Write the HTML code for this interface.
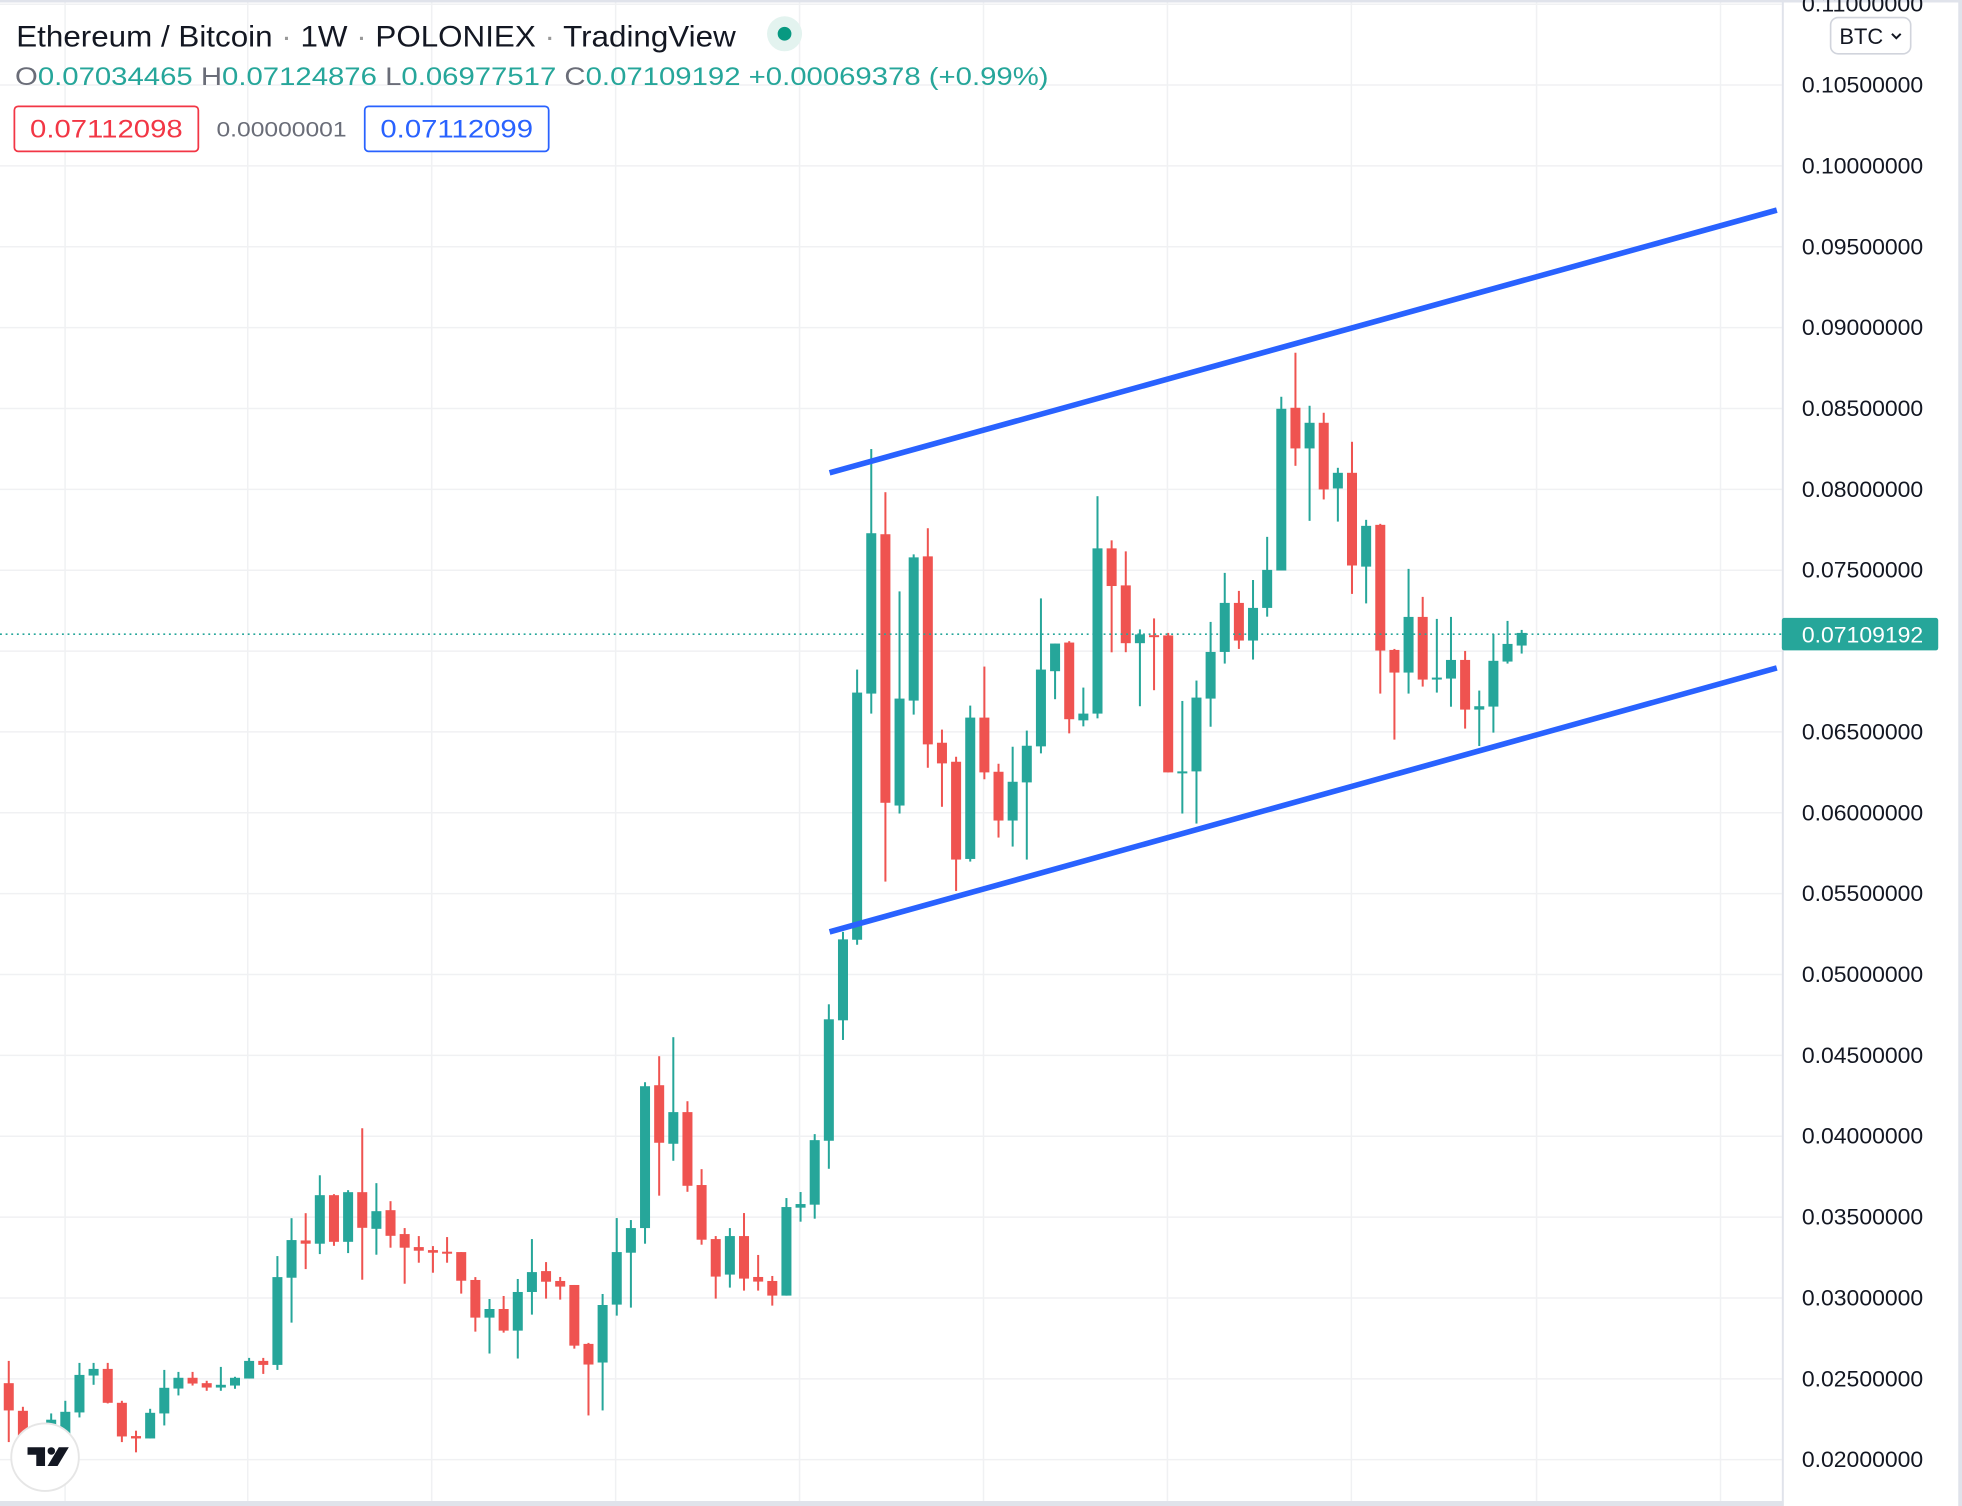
<!DOCTYPE html>
<html><head><meta charset="utf-8"><style>
html,body{margin:0;padding:0;background:#fff;}
svg{display:block;}
text{font-family:"Liberation Sans",Arial,sans-serif;}
</style></head><body>
<svg id="s" width="1962" height="1506" viewBox="0 0 1568 1204" preserveAspectRatio="none" xmlns="http://www.w3.org/2000/svg">
<rect width="1568" height="1204" fill="#fff"/>
<g id="grid" stroke="#f0f1f3" stroke-width="1.2"></g>
<rect x="0" y="0" width="1568" height="2" fill="#e0e3eb"/>
<rect x="0" y="1200" width="1425" height="4" fill="#e0e3eb"/>
<rect x="1424" y="0" width="1.6" height="1204" fill="#e0e3eb"/>
<rect x="1565" y="0" width="3" height="1204" fill="#e0e3eb"/>
<g id="candles"></g>
<line x1="663" y1="378" x2="1420" y2="168" stroke="#2962ff" stroke-width="4.5"/>
<line x1="663" y1="745" x2="1420" y2="534" stroke="#2962ff" stroke-width="4.5"/>
<line x1="0" y1="507" x2="1424" y2="507" stroke="#26a69a" stroke-width="1.3" stroke-dasharray="1.5 3"/>
<g id="axis" font-size="17.5" fill="#131722"></g>
<rect x="1424" y="494" width="125" height="26" rx="2" fill="#26a69a"/>
<text x="1440" y="513.5" font-size="17.5" fill="#fff" textLength="97" lengthAdjust="spacingAndGlyphs">0.07109192</text>
<rect x="1463" y="14" width="64" height="29" rx="6" fill="#fff" stroke="#d1d4dc" stroke-width="1.3"/>
<text x="1470" y="35" font-size="17.5" fill="#131722">BTC</text>
<path d="M1512 27 l3.5 3.5 l3.5 -3.5" fill="none" stroke="#131722" stroke-width="1.6"/>
<text x="13" y="37" font-size="24" fill="#131722" textLength="575" lengthAdjust="spacingAndGlyphs">Ethereum / Bitcoin <tspan fill="#999">·</tspan> 1W <tspan fill="#999">·</tspan> POLONIEX <tspan fill="#999">·</tspan> TradingView</text>
<circle cx="627" cy="27" r="14" fill="#e3f3ef"/>
<circle cx="627" cy="27" r="5.5" fill="#089981"/>
<text x="12" y="68" font-size="20" fill="#26a69a" textLength="826" lengthAdjust="spacingAndGlyphs"><tspan fill="#6a6d78">O</tspan>0.07034465 <tspan fill="#6a6d78">H</tspan>0.07124876 <tspan fill="#6a6d78">L</tspan>0.06977517 <tspan fill="#6a6d78">C</tspan>0.07109192 +0.00069378 (+0.99%)</text>
<rect x="11.5" y="85" width="147" height="36" rx="3" fill="#fff" stroke="#f23645" stroke-width="1.4"/>
<text x="24" y="110" font-size="20" fill="#f23645" textLength="122" lengthAdjust="spacingAndGlyphs">0.07112098</text>
<text x="173" y="109" font-size="17" fill="#6a6d78" textLength="104" lengthAdjust="spacingAndGlyphs">0.00000001</text>
<rect x="291.5" y="85" width="147" height="36" rx="3" fill="#fff" stroke="#2962ff" stroke-width="1.4"/>
<text x="304" y="110" font-size="20" fill="#2962ff" textLength="122" lengthAdjust="spacingAndGlyphs">0.07112099</text>
<circle cx="36" cy="1165" r="27" fill="#fff" stroke="#e6e6e6" stroke-width="1.5"/>
<path d="M22 1157 h14 v15 h-7 v-9 h-7z" fill="#131722"/>
<circle cx="41" cy="1160" r="3" fill="#131722"/>
<path d="M47 1157 h8 l-9 15 h-8z" fill="#131722"/>
</svg>
<script>
var NS="http://www.w3.org/2000/svg";
function el(p,t,a){var e=document.createElementNS(NS,t);for(var k in a)e.setAttribute(k,a[k]);p.appendChild(e);return e;}
var g=document.getElementById('grid');
[52,198,345,492,639,786,933,1080,1228,1375].forEach(function(x){el(g,'line',{x1:x,y1:0,x2:x,y2:1200});});
var ax=document.getElementById('axis');
for(var i=0;i<=18;i++){var p=0.11-0.005*i;var y=68+(0.105-p)*12929;
 if(y<1200)el(g,'line',{x1:0,y1:y,x2:1424,y2:y});
 if(i==8)continue;
 var t=el(ax,'text',{x:1440,y:y+6,textLength:97,lengthAdjust:'spacingAndGlyphs'});t.textContent=p.toFixed(8);}
var D=[
['r',1105.8,1127.6,1088,1152.9],['r',1127.9,1150,1124.7,1160],['r',1150,1152,1145,1160],['g',1135,1150,1130,1158],
['g',1128.7,1148,1119.9,1152],['g',1099.2,1129.2,1089.6,1133.2],['g',1094.4,1099.7,1089.6,1107.1],['r',1094.4,1121.5,1089.6,1122],
['r',1121.5,1148.4,1119.9,1152.9],['r',1148.1,1150,1143.8,1161.1],['g',1129.5,1150,1126.3,1150],['g',1109.5,1130,1095.2,1139.6],
['g',1101.5,1110.1,1096.8,1115.6],['r',1101.5,1106.1,1096.8,1107.7],['r',1105.8,1109.3,1103.9,1111.9],['g',1107.1,1109.3,1092.8,1111.9],
['g',1101.5,1107.7,1100.7,1110.3],['g',1088,1102.1,1085.6,1102.1],['r',1088,1091.2,1085.6,1098.4],['g',1021,1091.2,1004.2,1095.2],
['g',991.4,1021.5,973.9,1057.4],['r',991.7,994.3,969.9,1014.6],['g',955.5,994.3,939.6,1002.6],['r',955.5,992.8,954.7,996],
['g',953.1,992.8,951.5,1001.8],['r',953.1,981.6,902,1023.1],['g',968.3,982.4,945.9,1003.1],['r',967.5,988,960.3,997.5],
['r',986.6,997.5,981.8,1026.3],['r',997,999.9,988.2,1009.5],['r',999.4,1001.5,996.2,1017.5],['r',1000.7,1001.8,989,1009.5],
['r',1001,1023.9,1001,1034.2],['r',1023.3,1053.4,1021,1064.6],['g',1046.5,1053.4,1038.5,1082.1],['r',1046.5,1063.8,1036.1,1065.4],
['g',1032.9,1063.8,1022.5,1086.1],['g',1017,1032.9,990.6,1051],['r',1016.2,1024.7,1009,1038.2],['r',1024.1,1028.6,1020.9,1039],
['r',1027.3,1075.8,1027.3,1078.2],['r',1074.4,1090.9,1073.6,1131.6],['g',1043.3,1089.3,1034.5,1127.6],['g',1001,1043,973.8,1051.8],
['g',981.8,1001.5,975.4,1045.4],['g',868.4,981.8,865.2,994.3],['r',867.6,913.6,844.4,955.9],['g',889.1,914.4,829.2,928],
['r',889.1,948,880.4,952.8],['r',947.4,991.1,934.7,995.1],['r',990.6,1020.6,988.2,1038.2],['g',988.2,1019,981.8,1029.4],
['r',988.2,1022.2,969.8,1031.8],['r',1020.9,1024.6,1003.3,1031.8],['r',1024.1,1035.8,1020.1,1043.8],['g',965,1035.8,957.8,1035.8],
['g',962.6,965.5,953,976.7],['g',911.5,963.1,906.7,974.3],['g',814.9,912,802.9,934.4],['g',751,815.7,745,831.4],
['g',553.7,751.3,535.3,755.3],['g',426.3,554.5,359,570.5],['r',427.1,641.8,393.5,704.8],['g',558.5,644,472.8,650.4],
['g',445.6,560.1,443.2,571.3],['r',444.8,595.1,422.3,613.8],['r',593.8,610.3,583.3,645],['r',609,687.2,605,712.3],
['g',573.7,686.7,564.1,688.8],['r',573.7,617.5,532.9,623],['r',617,656,610.6,669.6],['g',625,656,597,676.8],
['g',596.2,625.5,584.1,687.2],['g',535.3,596.7,478.4,602.3],['g',514.5,536.6,514.5,559],['r',513.7,575,512.6,586.3],
['g',570.5,575.9,549.7,580.7],['g',438.4,570.5,396.7,574.3],['r',438.4,468.5,432,521.5],['r',468,514.2,440.8,521.4],
['g',507.2,514.2,503.2,564.6],['r',507.8,508.9,494.4,551.8],['r',508,617.5,506,617.5],['g',616.7,617.5,560.4,650.4],
['g',557.7,616.7,544.1,658.4],['g',521.2,558.5,497.2,581],['g',482,521.2,458,530.5],['r',482,512.1,472.4,518.8],
['g',486,512.1,463.7,527.3],['g',455.6,486,429.2,493],['g',326.8,456.1,317.2,456.1],['r',326,358.5,282,372.4],
['g',338,358.5,324.4,416.4],['r',338,391.3,330,399.3],['g',378,390.5,374,417],['r',378,452.1,353.2,474.8],
['g',420.4,453,415.6,482.4],['r',419.6,520.1,418.8,554.5],['r',519.6,537.7,518.8,591.3],['g',493.2,537.7,454.8,554.5],
['r',493.2,543.3,477.2,548.9],['g',541.7,542.5,494.8,553.7],['g',527.6,542.5,493.2,565],['r',527.6,567.3,520.4,582.5],
['g',564.6,567.3,552.1,596.4],['g',528.3,564.9,506.8,585.7],['g',514.8,528.9,496.4,530.5],['g',506,516.1,503.6,522.5]];
var cg=document.getElementById('candles');
D.forEach(function(d,i){var x=7+11.3*i;var c=d[0]=='g'?'#26a69a':'#ef5350';
 el(cg,'rect',{x:x-0.8,y:d[3],width:1.6,height:d[4]-d[3],fill:c});
 var h=Math.max(d[2]-d[1],1.6);
 el(cg,'rect',{x:x-4,y:d[1],width:8,height:h,fill:c});});
</script>
</body></html>
